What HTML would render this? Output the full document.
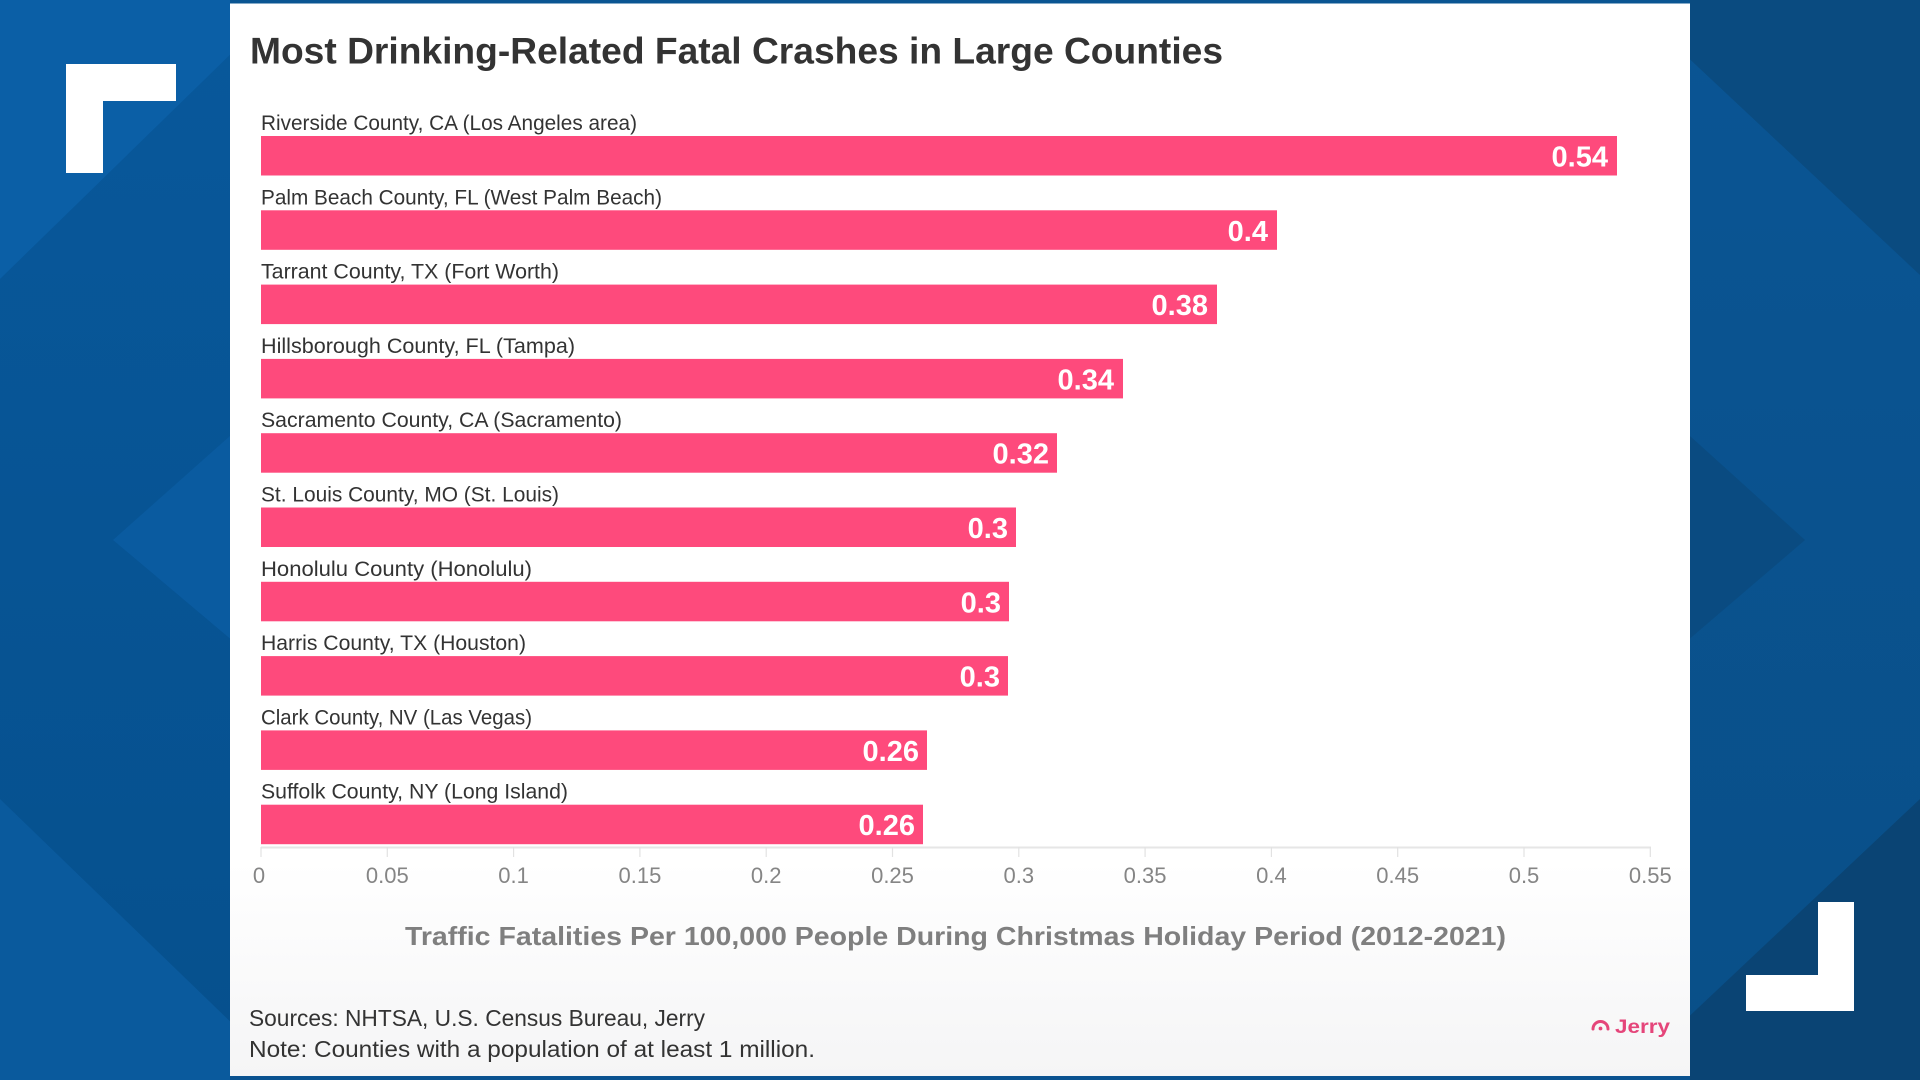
<!DOCTYPE html>
<html>
<head>
<meta charset="utf-8">
<style>
  html,body{margin:0;padding:0;width:1920px;height:1080px;overflow:hidden;background:#08579a;}
  svg{display:block;}
  text{font-family:"Liberation Sans", Arial, sans-serif;}
</style>
</head>
<body>
<svg width="1920" height="1080" viewBox="0 0 1920 1080" xmlns="http://www.w3.org/2000/svg">
  <defs>
    <linearGradient id="panelGrad" x1="0" y1="0" x2="0" y2="1">
      <stop offset="0" stop-color="#ffffff"/>
      <stop offset="0.8" stop-color="#ffffff"/>
      <stop offset="1" stop-color="#f5f5f6"/>
    </linearGradient>
    <linearGradient id="leftGrad" x1="0" y1="0" x2="0" y2="1">
      <stop offset="0" stop-color="#08589b"/>
      <stop offset="1" stop-color="#06508d"/>
    </linearGradient>
    <linearGradient id="rightGrad" x1="0" y1="0" x2="0" y2="1">
      <stop offset="0" stop-color="#0a5594"/>
      <stop offset="1" stop-color="#094f88"/>
    </linearGradient>
  </defs>

  <!-- Background left -->
  <rect x="0" y="0" width="240" height="1080" fill="url(#leftGrad)"/>
  <polygon points="0,0 240,0 240,45 0,279" fill="#0b5fa6"/>
  <polygon points="240,427 113,540 240,647" fill="#0a5ba0"/>
  <polygon points="0,799 240,1031 240,1080 0,1080" fill="#0a5a9d"/>

  <!-- Background right -->
  <rect x="1680" y="0" width="240" height="1080" fill="url(#rightGrad)"/>
  <polygon points="1680,0 1920,0 1920,275 1680,50" fill="#0a4b80"/>
  <polygon points="1680,427 1805,540 1680,647" fill="#0a4b81"/>
  <polygon points="1680,1025 1920,799 1920,1080 1680,1080" fill="#0a4474"/>

  <!-- Top / bottom strips -->
  <rect x="230" y="0" width="1460" height="4" fill="#0a5592"/>
  <rect x="230" y="1076" width="1460" height="4" fill="#0a5290"/>

  <!-- Corner brackets -->
  <rect x="66" y="64" width="110" height="37" fill="#ffffff"/>
  <rect x="66" y="64" width="37" height="109" fill="#ffffff"/>
  <rect x="1818" y="902" width="36" height="109" fill="#ffffff"/>
  <rect x="1746" y="975" width="108" height="36" fill="#ffffff"/>

  <!-- Panel -->
  <rect x="230" y="3.5" width="1460" height="1072.5" fill="url(#panelGrad)"/>

  <!-- Title -->
  <text x="250" y="63.5" font-size="37" font-weight="bold" fill="#333333" textLength="973" lengthAdjust="spacingAndGlyphs">Most Drinking-Related Fatal Crashes in Large Counties</text>

  <!-- Axis line and ticks -->
  <line x1="261" y1="847.5" x2="1651" y2="847.5" stroke="#e6e6e6" stroke-width="2"/>
  <g stroke="#e2e2e2" stroke-width="1.2">
    <line x1="261" y1="847" x2="261" y2="857"/>
    <line x1="387.3" y1="847" x2="387.3" y2="857"/>
    <line x1="513.6" y1="847" x2="513.6" y2="857"/>
    <line x1="639.9" y1="847" x2="639.9" y2="857"/>
    <line x1="766.2" y1="847" x2="766.2" y2="857"/>
    <line x1="892.5" y1="847" x2="892.5" y2="857"/>
    <line x1="1018.8" y1="847" x2="1018.8" y2="857"/>
    <line x1="1145.1" y1="847" x2="1145.1" y2="857"/>
    <line x1="1271.4" y1="847" x2="1271.4" y2="857"/>
    <line x1="1397.7" y1="847" x2="1397.7" y2="857"/>
    <line x1="1524" y1="847" x2="1524" y2="857"/>
    <line x1="1650.3" y1="847" x2="1650.3" y2="857"/>
  </g>
  <g font-size="22" fill="#858585" text-anchor="middle">
    <text x="259" y="883">0</text>
    <text x="387.3" y="883">0.05</text>
    <text x="513.6" y="883">0.1</text>
    <text x="639.9" y="883">0.15</text>
    <text x="766.2" y="883">0.2</text>
    <text x="892.5" y="883">0.25</text>
    <text x="1018.8" y="883">0.3</text>
    <text x="1145.1" y="883">0.35</text>
    <text x="1271.4" y="883">0.4</text>
    <text x="1397.7" y="883">0.45</text>
    <text x="1524" y="883">0.5</text>
    <text x="1650.3" y="883">0.55</text>
  </g>

  <!-- Bars -->
  <g fill="#fe4a7c">
    <rect x="261" y="136" width="1356" height="39.5"/>
    <rect x="261" y="210.3" width="1016" height="39.5"/>
    <rect x="261" y="284.6" width="956" height="39.5"/>
    <rect x="261" y="358.9" width="862" height="39.5"/>
    <rect x="261" y="433.2" width="796" height="39.5"/>
    <rect x="261" y="507.5" width="755" height="39.5"/>
    <rect x="261" y="581.8" width="748" height="39.5"/>
    <rect x="261" y="656.1" width="747" height="39.5"/>
    <rect x="261" y="730.4" width="666" height="39.5"/>
    <rect x="261" y="804.7" width="662" height="39.5"/>
  </g>

  <!-- Category labels -->
  <g font-size="21" fill="#333333">
    <text x="261" y="130" textLength="376" lengthAdjust="spacingAndGlyphs">Riverside County, CA (Los Angeles area)</text>
    <text x="261" y="204.3" textLength="401" lengthAdjust="spacingAndGlyphs">Palm Beach County, FL (West Palm Beach)</text>
    <text x="261" y="278.6" textLength="298" lengthAdjust="spacingAndGlyphs">Tarrant County, TX (Fort Worth)</text>
    <text x="261" y="352.9" textLength="314" lengthAdjust="spacingAndGlyphs">Hillsborough County, FL (Tampa)</text>
    <text x="261" y="427.2" textLength="361" lengthAdjust="spacingAndGlyphs">Sacramento County, CA (Sacramento)</text>
    <text x="261" y="501.5" textLength="298" lengthAdjust="spacingAndGlyphs">St. Louis County, MO (St. Louis)</text>
    <text x="261" y="575.8" textLength="271" lengthAdjust="spacingAndGlyphs">Honolulu County (Honolulu)</text>
    <text x="261" y="650.1" textLength="265" lengthAdjust="spacingAndGlyphs">Harris County, TX (Houston)</text>
    <text x="261" y="724.4" textLength="271" lengthAdjust="spacingAndGlyphs">Clark County, NV (Las Vegas)</text>
    <text x="261" y="798.7" textLength="307" lengthAdjust="spacingAndGlyphs">Suffolk County, NY (Long Island)</text>
  </g>

  <!-- Value labels -->
  <g font-size="29" font-weight="bold" fill="#ffffff" text-anchor="end">
    <text x="1608" y="166.5">0.54</text>
    <text x="1268" y="240.8">0.4</text>
    <text x="1208" y="315.1">0.38</text>
    <text x="1114" y="389.4">0.34</text>
    <text x="1049" y="463.7">0.32</text>
    <text x="1008" y="538">0.3</text>
    <text x="1001" y="612.3">0.3</text>
    <text x="1000" y="686.6">0.3</text>
    <text x="919" y="760.9">0.26</text>
    <text x="915" y="835.2">0.26</text>
  </g>

  <!-- Axis title -->
  <text x="405" y="945" font-size="26" font-weight="bold" fill="#7f7f7f" textLength="1101" lengthAdjust="spacingAndGlyphs">Traffic Fatalities Per 100,000 People During Christmas Holiday Period (2012-2021)</text>

  <!-- Sources -->
  <text x="249" y="1026" font-size="23" fill="#333333" textLength="456" lengthAdjust="spacingAndGlyphs">Sources: NHTSA, U.S. Census Bureau, Jerry</text>
  <text x="249" y="1057" font-size="23" fill="#333333" textLength="566" lengthAdjust="spacingAndGlyphs">Note: Counties with a population of at least 1 million.</text>

  <!-- Jerry logo -->
  <path d="M1593,1029 A7.5,7.5 0 0 1 1608,1029" fill="none" stroke="#e5457a" stroke-width="3" stroke-linecap="round"/>
  <circle cx="1600.5" cy="1028.5" r="1.9" fill="#e5457a"/>
  <text x="1615" y="1033" font-size="19" font-weight="bold" fill="#e5457a" textLength="55" lengthAdjust="spacingAndGlyphs">Jerry</text>
</svg>
</body>
</html>
